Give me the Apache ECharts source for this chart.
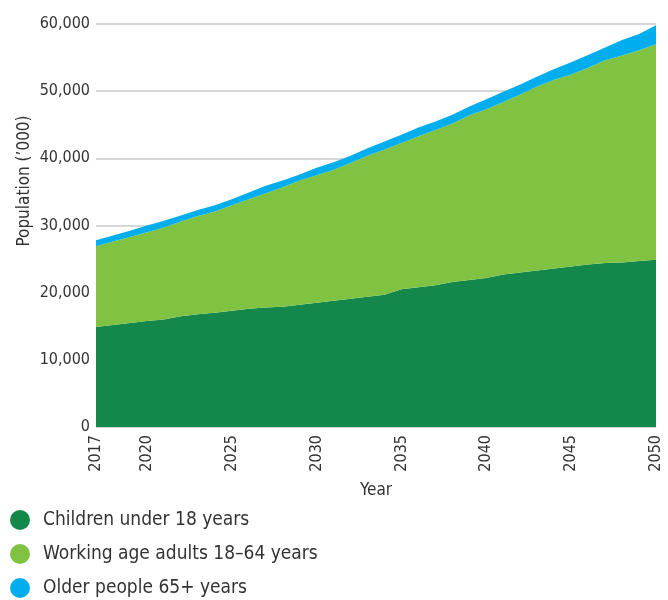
<!DOCTYPE html>
<html>
<head>
<meta charset="utf-8">
<title>Population projection by age group, 2017–2050</title>
<script src="https://cdn.jsdelivr.net/npm/echarts@6/dist/echarts.min.js"></script>
<style>
  html, body { margin: 0; padding: 0; background: #fff; }
  #chart { width: 668px; height: 600px; }
</style>
</head>
<body>
<div id="chart"></div>
<script>
// Population ('000) by age group, yearly projection
const years = [2017, 2018, 2019, 2020, 2021, 2022, 2023, 2024, 2025, 2026, 2027,
  2028, 2029, 2030, 2031, 2032, 2033, 2034, 2035, 2036, 2037, 2038, 2039, 2040,
  2041, 2042, 2043, 2044, 2045, 2046, 2047, 2048, 2049, 2050];

const children = [14900, 15200, 15500, 15800, 16000, 16500, 16800, 17000, 17300, 17600, 17800,
  17900, 18200, 18500, 18800, 19100, 19400, 19700, 20500, 20800, 21100, 21600, 21900, 22200,
  22700, 23000, 23300, 23600, 23900, 24200, 24400, 24500, 24700, 24900];

const workingAge = [12000, 12400, 12800, 13200, 13700, 14100, 14600, 15100, 15700, 16300, 17000,
  17800, 18500, 19000, 19500, 20200, 21000, 21600, 21800, 22500, 23100, 23600, 24500, 25100,
  25700, 26500, 27400, 28100, 28600, 29300, 30200, 30800, 31400, 32100];

const older = [900, 900, 900, 1000, 1000, 900, 900, 900, 900, 1000, 1100,
  1000, 900, 1100, 1100, 1100, 1100, 1200, 1200, 1300, 1300, 1300, 1300, 1500,
  1500, 1500, 1500, 1600, 1800, 1900, 1900, 2300, 2400, 2800];

const labelledYears = [2017, 2020, 2025, 2030, 2035, 2040, 2045, 2050];
const yTicks = { min: 0, max: 60000, step: 10000 };

const seriesNames = ['Children under 18 years', 'Working age adults 18–64 years', 'Older people 65+ years'];
const seriesColors = ['#13884a', '#80c242', '#00aeef'];

const FONT = "'Liberation Sans Narrow', 'DejaVu Sans Condensed', 'Roboto', sans-serif";
const TEXT = '#333333';

function areaSeries(name, values, color) {
  return {
    name: name,
    type: 'line',
    stack: 'population',
    data: values,
    symbol: 'none',
    smooth: false,
    lineStyle: { width: 0 },
    itemStyle: { color: color },
    areaStyle: { color: color, opacity: 1 },
    emphasis: { disabled: true }
  };
}

const chart = echarts.init(document.getElementById('chart'), null, { renderer: 'canvas' });

chart.setOption({
  animation: false,
  textStyle: { fontFamily: FONT, color: TEXT },
  grid: { left: 96, right: 12, top: 24, bottom: 173, containLabel: false },
  xAxis: {
    type: 'category',
    data: years,
    boundaryGap: false,
    name: 'Year',
    nameLocation: 'middle',
    nameGap: 55,
    nameTextStyle: { fontFamily: FONT, fontSize: 17, color: TEXT },
    axisLine: { show: false },
    axisTick: { show: false },
    splitLine: { show: false },
    axisLabel: {
      rotate: 90,
      margin: 8,
      fontFamily: FONT,
      fontSize: 16,
      color: TEXT,
      interval: function (idx, value) {
        return labelledYears.indexOf(Number(value)) !== -1;
      }
    }
  },
  yAxis: {
    type: 'value',
    min: yTicks.min,
    max: yTicks.max,
    interval: yTicks.step,
    axisLine: { show: false },
    axisTick: { show: false },
    axisLabel: {
      margin: 6,
      fontFamily: FONT,
      fontSize: 16,
      color: TEXT,
      formatter: function (v) { return v.toLocaleString('en-US'); }
    },
    splitLine: { show: true, lineStyle: { color: '#c8c8c8', width: 1.5 } }
  },
  legend: {
    orient: 'vertical',
    left: 10,
    top: 510,
    padding: 0,
    icon: 'circle',
    itemWidth: 20,
    itemHeight: 20,
    itemGap: 14,
    selectedMode: false,
    data: seriesNames,
    textStyle: { fontFamily: FONT, fontSize: 19, lineHeight: 20, color: TEXT, padding: [0, 0, 0, 8] }
  },
  graphic: [{
    type: 'text',
    x: 25,
    y: 181,
    rotation: Math.PI / 2,
    style: {
      text: "Population (’000)",
      fontFamily: FONT,
      fontSize: 17,
      fill: TEXT,
      textAlign: 'center',
      textVerticalAlign: 'middle'
    }
  }],
  series: [
    areaSeries(seriesNames[0], children, seriesColors[0]),
    areaSeries(seriesNames[1], workingAge, seriesColors[1]),
    areaSeries(seriesNames[2], older, seriesColors[2])
  ]
});
</script>
</body>
</html>
